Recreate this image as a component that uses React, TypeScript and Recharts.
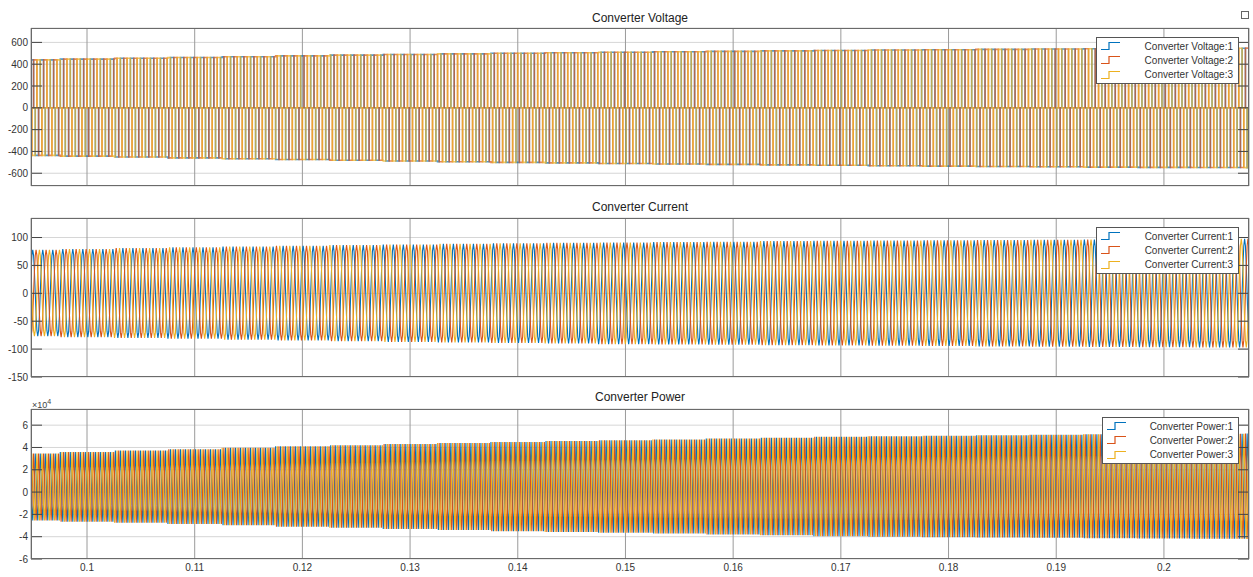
import React from 'react';
import { LineChart, Line, XAxis, YAxis, CartesianGrid } from 'recharts';

// envelope readings every 0.005 s
const envTimes = [0.095, 0.1, 0.105, 0.11, 0.115, 0.12, 0.125, 0.13, 0.135, 0.14, 0.145, 0.15, 0.155, 0.16, 0.165, 0.17, 0.175, 0.18, 0.185, 0.19, 0.195, 0.2, 0.205, 0.21];

const voltageUpper = [440, 447, 455, 462, 469, 476, 483, 489, 495, 500, 505, 510, 514, 518, 522, 526, 530, 533, 536, 539, 542, 544, 546, 547];
const voltageLower = [-436, -443, -451, -459, -467, -474, -481, -488, -494, -500, -505, -510, -515, -519, -523, -527, -531, -535, -538, -541, -544, -546, -548, -549];

const currentUpper = [78, 79.5, 81, 82.5, 84, 85, 86.5, 87.5, 88.5, 89.5, 90.5, 91, 92, 92.5, 93.5, 94, 94.5, 95, 95.5, 96, 96.5, 97, 97.5, 97.5];
const currentLower = [-77, -78.5, -80, -81.5, -83, -84.5, -86, -87, -88, -89, -90, -91, -91.5, -92, -93, -93.5, -94, -94.5, -95, -95.5, -96, -96.5, -97, -97];

const powerUpper = [34500, 36000, 37200, 38500, 39800, 41000, 42000, 43000, 44000, 45000, 45800, 46500, 47200, 48000, 48700, 49500, 50000, 50500, 51000, 51500, 51800, 52000, 52300, 52500];
const powerLower = [-25500, -26500, -27500, -28500, -29800, -31000, -32000, -33000, -34000, -35000, -35800, -36500, -37200, -38000, -38700, -39500, -40000, -40500, -40800, -41000, -41300, -41500, -41800, -42000];

// one cycle of each phase, 12 samples
const voltageShape = [1, 1, 1, 1, 0, 0, -1, -1, -1, -1, 0, 0];
const currentShape = [0, 0.5, 0.87, 1, 0.87, 0.5, 0, -0.5, -0.87, -1, -0.87, -0.5];
const powerShape = [1, 0.45, -0.45, -1, -0.45, 0.45, 1, 0.45, -0.45, -1, -0.45, 0.45];
const phaseOffsets = [0, 4, 8];

const PERIOD = 0.00093;
const T_START = 0.0948;
const T_END = 0.2079;

const xTicks = [0.1, 0.11, 0.12, 0.13, 0.14, 0.15, 0.16, 0.17, 0.18, 0.19, 0.2];
const voltTicks = [-600, -400, -200, 0, 200, 400, 600];
const currTicks = [-150, -100, -50, 0, 50, 100];
const powTicks = [-60000, -40000, -20000, 0, 20000, 40000, 60000];

const COLORS = ['#0072BD', '#D95319', '#EDB120'];

const W = 1253;
const PLOT_L = 31;
const PLOT_R = 1249;

function nearestEnv(t: number) {
  let best = 0;
  for (let i = 1; i < envTimes.length; i++) {
    if (Math.abs(envTimes[i] - t) < Math.abs(envTimes[best] - t)) best = i;
  }
  return best;
}

function buildRows(shape: number[], upper: number[], lower: number[]) {
  const n = shape.length;
  const dt = PERIOD / n;
  const rows: any[] = [];
  const count = Math.ceil((T_END + 0.001 - (T_START - 0.001)) / dt);
  for (let k = 0; k < count; k++) {
    const t = T_START - 0.001 + k * dt;
    const e = nearestEnv(t);
    const row: any = { t };
    ['a', 'b', 'c'].forEach((key, p) => {
      const s = shape[(k - phaseOffsets[p] + n * 10) % n];
      row[key] = s >= 0 ? s * upper[e] : -s * lower[e];
    });
    rows.push(row);
  }
  return rows;
}

const voltageRows = buildRows(voltageShape, voltageUpper, voltageLower);
const currentRows = buildRows(currentShape, currentUpper, currentLower);
const powerRows = buildRows(powerShape, powerUpper, powerLower);

const FONT = '"Liberation Sans", Arial, sans-serif';

const YTick = (props: any) => {
  const { x, y, payload, fmt } = props;
  return (
    <g>
      <line x1={PLOT_L} x2={PLOT_L + 11} y1={y} y2={y} stroke="#444" strokeWidth={1} />
      <line x1={PLOT_R - 11} x2={PLOT_R} y1={y} y2={y} stroke="#444" strokeWidth={1} />
      <text x={x} y={y} dy={3.5} textAnchor="end" fontSize={10} fill="#333" fontFamily={FONT}>
        {fmt(payload.value)}
      </text>
    </g>
  );
};

const LegendBox = ({ names, left, top }: { names: string[]; left: number; top: number }) => (
  <div
    style={{
      position: 'absolute',
      left,
      top,
      width: PLOT_R - 10 - left,
      background: '#fff',
      border: '1px solid #555',
      boxSizing: 'border-box',
      padding: '1px 5px 1px 4px',
      fontFamily: FONT,
      fontSize: 10,
      color: '#333',
    }}
  >
    {names.map((name, i) => (
      <div key={i} style={{ display: 'flex', alignItems: 'center', height: 14.3 }}>
        <svg width={19} height={10} style={{ flex: 'none' }}>
          <path d="M0 8.5 H8 V1.5 H19" fill="none" stroke={COLORS[i]} strokeWidth={1.2} />
        </svg>
        <span style={{ flex: 1, textAlign: 'right' }}>{name}</span>
      </div>
    ))}
  </div>
);

type PanelProps = {
  top: number;
  height: number;
  marginTop: number;
  marginBottom: number;
  xHeight: number;
  showX: boolean;
  rows: any[];
  domain: [number, number];
  yTicks: number[];
  fmt: (v: number) => string;
  names: string[];
  lineType: any;
  strokeWidth: number;
  strokeOpacity: number;
  legendLeft: number;
  legendTop: number;
  title: string;
  titleTop: number;
};

const Panel = (p: PanelProps) => {
  const plotTop = p.marginTop;
  const plotH = p.height - p.marginTop - p.marginBottom - p.xHeight;
  return (
    <div style={{ position: 'absolute', left: 0, top: p.top, width: W, height: p.height }}>
      <div
        style={{
          position: 'absolute',
          left: PLOT_L,
          width: PLOT_R - PLOT_L,
          top: p.titleTop,
          textAlign: 'center',
          fontFamily: FONT,
          fontSize: 12,
          color: '#222',
          lineHeight: '14px',
        }}
      >
        {p.title}
      </div>
      <LineChart
        width={W}
        height={p.height}
        data={p.rows}
        margin={{ top: p.marginTop, right: W - PLOT_R, bottom: p.marginBottom, left: 0 }}
      >
        <CartesianGrid horizontal vertical={false} stroke="#d6d6d6" />
        <CartesianGrid horizontal={false} vertical stroke="#9a9a9a" />
        <XAxis
          dataKey="t"
          type="number"
          domain={[T_START, T_END]}
          allowDataOverflow
          ticks={xTicks}
          interval={0}
          height={p.xHeight}
          axisLine={false}
          tickLine={false}
          tickSize={0}
          tickMargin={5}
          tick={{ fontSize: 10, fill: '#333', fontFamily: FONT }}
          tickFormatter={(v: number) => (p.showX ? String(v) : '')}
        />
        <YAxis
          width={PLOT_L}
          type="number"
          domain={p.domain}
          allowDataOverflow
          ticks={p.yTicks}
          interval={0}
          axisLine={false}
          tickLine={false}
          tickSize={0}
          tickMargin={3}
          tick={(tp: any) => <YTick {...tp} fmt={p.fmt} />}
        />
        {['a', 'b', 'c'].map((key, i) => (
          <Line
            key={key}
            dataKey={key}
            name={p.names[i]}
            type={p.lineType}
            stroke={COLORS[i]}
            strokeWidth={p.strokeWidth}
            strokeOpacity={p.strokeOpacity}
            dot={false}
            activeDot={false}
            isAnimationActive={false}
          />
        ))}
      </LineChart>
      <div
        style={{
          position: 'absolute',
          left: PLOT_L,
          top: plotTop,
          width: PLOT_R - PLOT_L,
          height: plotH,
          border: '1px solid #6a6a6a',
          boxSizing: 'border-box',
          pointerEvents: 'none',
        }}
      />
      <LegendBox names={p.names} left={p.legendLeft} top={p.legendTop} />
    </div>
  );
};

export default function App() {
  return (
    <div style={{ position: 'absolute', left: 0, top: 0, width: W, height: 577, background: '#fff', overflow: 'hidden' }}>
      <Panel
        top={0}
        height={195}
        marginTop={28}
        marginBottom={8}
        xHeight={1}
        showX={false}
        rows={voltageRows}
        domain={[-717, 732]}
        yTicks={voltTicks}
        fmt={(v) => String(v)}
        names={['Converter Voltage:1', 'Converter Voltage:2', 'Converter Voltage:3']}
        lineType="stepAfter"
        strokeWidth={1.6}
        strokeOpacity={0.7}
        legendLeft={1096}
        legendTop={37}
        title="Converter Voltage"
        titleTop={11}
      />
      <Panel
        top={190}
        height={196}
        marginTop={28}
        marginBottom={8}
        xHeight={1}
        showX={false}
        rows={currentRows}
        domain={[-150, 135]}
        yTicks={currTicks}
        fmt={(v) => String(v)}
        names={['Converter Current:1', 'Converter Current:2', 'Converter Current:3']}
        lineType="linear"
        strokeWidth={1.1}
        strokeOpacity={1}
        legendLeft={1096}
        legendTop={37}
        title="Converter Current"
        titleTop={10}
      />
      <Panel
        top={380}
        height={197}
        marginTop={29}
        marginBottom={2}
        xHeight={16}
        showX
        rows={powerRows}
        domain={[-60000, 74500]}
        yTicks={powTicks}
        fmt={(v) => String(v / 10000)}
        names={['Converter Power:1', 'Converter Power:2', 'Converter Power:3']}
        lineType="linear"
        strokeWidth={1.1}
        strokeOpacity={1}
        legendLeft={1102}
        legendTop={37}
        title="Converter Power"
        titleTop={10}
      />
      <div style={{ position: 'absolute', left: 32, top: 398, fontFamily: FONT, fontSize: 9, color: '#444' }}>
        ×10<sup style={{ fontSize: 7 }}>4</sup>
      </div>
      <div style={{ position: 'absolute', left: 1241, top: 11, width: 6, height: 6, border: '1px solid #666' }} />
    </div>
  );
}
